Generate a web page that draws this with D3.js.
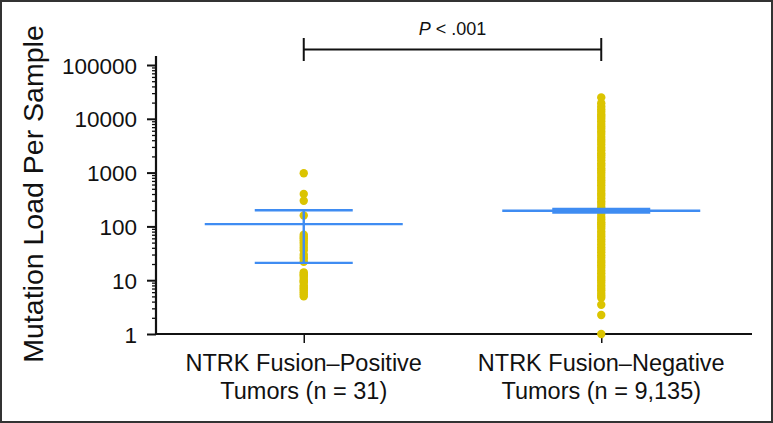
<!DOCTYPE html>
<html>
<head>
<meta charset="utf-8">
<script src="https://d3js.org/d3.v7.min.js"></script>
<style>
  body { margin: 0; background: #fff; }
  svg text { font-family: "Liberation Sans", Arial, sans-serif; fill: #111; }
</style>
</head>
<body>
<svg width="773" height="423"></svg>
<script>
const width = 773, height = 423;

const categories = ["pos", "neg"];
const categoryLines = {
  pos: ["NTRK Fusion\u2013Positive", "Tumors (n = 31)"],
  neg: ["NTRK Fusion\u2013Negative", "Tumors (n = 9,135)"]
};
const yTicks = [1, 10, 100, 1000, 10000, 100000];

// mutation load values
const positiveValues = [970, 400, 300, 160,
  70, 64, 60, 55, 50, 45, 40, 36, 30, 27, 25, 22,
  14, 13, 12.5, 12, 11, 10, 9.5, 9, 8, 7.5, 7, 6.5, 6, 5.5, 5];
const negativeValues = [25000, 19500, 17000, 15000, 13500, 12000, 11000, 10000, 9000, 8000,
  7200, 6500, 5800, 5200, 4600, 4100, 3700, 3300, 2900, 2600, 2300, 2100, 1900, 1700,
  1500, 1350, 1200, 1100, 1000, 900, 800, 720, 650, 580, 520, 460, 410, 370, 330, 290,
  260, 230, 210, 190, 170, 150, 135, 120, 110, 100, 90, 80, 72, 65, 58, 52, 46, 41, 37,
  33, 29, 26, 23, 21, 19, 17, 15, 13.5, 12, 11, 10, 9, 8, 7.2, 6.5, 5.8, 5.2,
  4.7, 3.5, 2.25, 1];

// centre line (wide) and error bars (narrow)
const centerValues = { pos: 110, neg: 195 };
const upperValues = { pos: 200, neg: 212 };
const lowerValues = { pos: 21, neg: 180 };

const yellow = "#dbc400", blue = "#3f8cf2";

const svg = d3.select("svg");

const x = d3.scalePoint()
  .domain(categories)
  .range([155, 750])
  .padding(0.5);

const y = d3.scaleLog()
  .domain([1, 100000])
  .range([334, 65]);

// outer frame
svg.append("rect")
  .attr("x", 1).attr("y", 1)
  .attr("width", width - 2).attr("height", height - 2)
  .attr("fill", "none")
  .attr("stroke", "#333")
  .attr("stroke-width", 2);

// minor ticks
const minorTicks = [];
for (let d = 1; d < 100000; d *= 10) {
  for (let k = 2; k <= 9; k++) minorTicks.push(d * k);
}
svg.append("g")
  .attr("transform", "translate(156,0)")
  .call(d3.axisLeft(y).tickValues(minorTicks).tickSize(4).tickFormat(""))
  .call(g => g.select(".domain").remove())
  .call(g => g.selectAll("line").attr("stroke", "#111").attr("stroke-width", 1.3));

// major ticks and labels
svg.append("g")
  .attr("transform", "translate(156,0)")
  .call(d3.axisLeft(y).tickValues(yTicks).tickSize(9).tickPadding(10).tickFormat(d3.format("d")))
  .call(g => g.select(".domain").remove())
  .call(g => g.selectAll("line").attr("stroke", "#111").attr("stroke-width", 2))
  .call(g => g.selectAll("text")
    .attr("font-family", null).attr("font-size", null)
    .style("font-size", "22.5px").attr("dy", "0.36em"));

// y axis line (runs a bit above the top tick)
svg.append("line")
  .attr("x1", 156).attr("x2", 156)
  .attr("y1", 56).attr("y2", y(1) + 1)
  .attr("stroke", "#111").attr("stroke-width", 2.2);

// x axis
svg.append("g")
  .attr("transform", `translate(0,${y(1)})`)
  .call(d3.axisBottom(x).tickSize(9).tickFormat(""))
  .call(g => g.select(".domain").remove())
  .call(g => g.selectAll("line").attr("stroke", "#111").attr("stroke-width", 1.5));

svg.append("line")
  .attr("x1", 155).attr("x2", 752)
  .attr("y1", y(1)).attr("y2", y(1))
  .attr("stroke", "#111").attr("stroke-width", 2.2);

// category labels
categories.forEach(c => {
  const t = svg.append("text")
    .attr("text-anchor", "middle")
    .style("font-size", "23.5px");
  categoryLines[c].forEach((line, i) => {
    t.append("tspan")
      .attr("x", x(c))
      .attr("y", 371 + i * 28)
      .text(line);
  });
});

// y axis title
svg.append("text")
  .attr("transform", `translate(43,194) rotate(-90)`)
  .attr("text-anchor", "middle")
  .style("font-size", "28.5px")
  .text("Mutation Load Per Sample");

// dots
const dots = [
  ...positiveValues.map(v => ({ c: "pos", v })),
  ...negativeValues.map(v => ({ c: "neg", v }))
];
svg.append("g")
  .selectAll("circle")
  .data(dots)
  .enter().append("circle")
  .attr("cx", d => x(d.c))
  .attr("cy", d => y(d.v))
  .attr("r", 4.2)
  .attr("fill", yellow);

// centre lines and error bars
const stats = svg.append("g").attr("stroke", blue).attr("fill", "none");
categories.forEach(c => {
  stats.append("line")
    .attr("x1", x(c) - 99).attr("x2", x(c) + 99)
    .attr("y1", y(centerValues[c])).attr("y2", y(centerValues[c]))
    .attr("stroke-width", 2.4);
  [upperValues[c], lowerValues[c]].forEach(v => {
    stats.append("line")
      .attr("x1", x(c) - 49).attr("x2", x(c) + 49)
      .attr("y1", y(v)).attr("y2", y(v))
      .attr("stroke-width", 2.4);
  });
  stats.append("line")
    .attr("x1", x(c)).attr("x2", x(c))
    .attr("y1", y(upperValues[c])).attr("y2", y(lowerValues[c]))
    .attr("stroke-width", 2.4);
});

// significance bracket
const bracketY = 49.5;
const bracket = svg.append("g").attr("stroke", "#111").attr("stroke-width", 2);
bracket.append("line")
  .attr("x1", x("pos")).attr("x2", x("neg"))
  .attr("y1", bracketY).attr("y2", bracketY);
categories.forEach(c => {
  bracket.append("line")
    .attr("x1", x(c)).attr("x2", x(c))
    .attr("y1", bracketY - 11.5).attr("y2", bracketY + 11.5);
});

const pLabel = svg.append("text")
  .attr("x", (x("pos") + x("neg")) / 2)
  .attr("y", 35)
  .attr("text-anchor", "middle")
  .style("font-size", "18px");
pLabel.append("tspan").style("font-style", "italic").text("P");
pLabel.append("tspan").text(" < .001");
</script>
</body>
</html>
